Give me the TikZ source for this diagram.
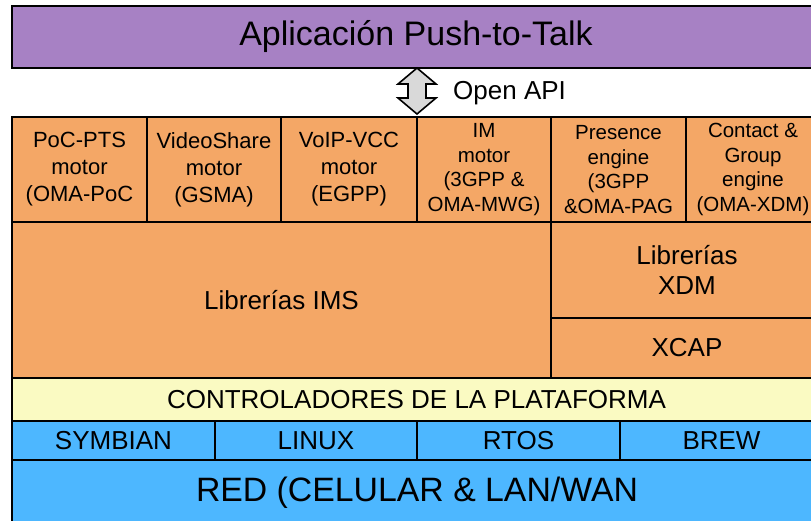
\documentclass[tikz,border=0pt]{standalone}
\usepackage{fontspec}
\setmainfont{Liberation Sans}
\definecolor{appviolet}{RGB}{167,129,196}
\definecolor{engorange}{RGB}{244,167,102}
\definecolor{drvyellow}{RGB}{250,250,194}
\definecolor{netblue}{RGB}{77,183,255}
\definecolor{arrowgray}{RGB}{217,217,217}
\begin{document}
\begin{tikzpicture}[x=1pt,y=-1pt,
  layer/.style={draw=black, line width=1.6pt, inner sep=0pt, outer sep=0pt, anchor=north west, align=center, text=black},
  engine/.style={layer, fill=engorange, font=\fontsize{22}{27}\selectfont},
  engine4/.style={layer, fill=engorange, font=\fontsize{20.5}{24.5}\selectfont},
  lib/.style={layer, fill=engorange, font=\fontsize{26}{30}\selectfont},
  os/.style={layer, fill=netblue, font=\fontsize{26}{30}\selectfont},
  apiarrow/.style={draw=black, line width=1.6pt, fill=arrowgray, line join=miter}
]
\useasboundingbox (0,0) rectangle (811,520);
\fill[white] (0,0) rectangle (811,520);
% top application layer
\node[layer, fill=appviolet, minimum width=808pt, minimum height=62pt, font=\fontsize{34}{38}\selectfont] (app) at (12,6) {Aplicación Push-to-Talk};
% engines row
\node[engine, minimum width=135pt, minimum height=105pt] (poc) at (12,117) {PoC-PTS\\motor\\(OMA-PoC};
\node[engine, minimum width=134pt, minimum height=105pt] (video) at (147,117) {VideoShare\\motor\\(GSMA)};
\node[engine, minimum width=136pt, minimum height=105pt] (voip) at (281,117) {VoIP-VCC\\motor\\(EGPP)};
\node[engine4, minimum width=134pt, minimum height=105pt] (im) at (417,117) {IM\\motor\\(3GPP \&\\OMA-MWG)};
\node[engine4, minimum width=135pt, minimum height=105pt] (pres) at (551,117) {Presence\\engine\\(3GPP\\\&OMA-PAG};
\node[engine4, minimum width=134pt, minimum height=105pt] (contact) at (686,117) {Contact \&\\Group\\engine\\(OMA-XDM)};
% libraries
\node[lib, minimum width=539pt, minimum height=156pt] (ims) at (12,222) {Librerías IMS};
\node[lib, minimum width=272pt, minimum height=96pt] (xdm) at (551,222) {Librerías\\XDM};
\node[lib, minimum width=272pt, minimum height=60pt] (xcap) at (551,318) {XCAP};
% drivers
\node[layer, fill=drvyellow, minimum width=809pt, minimum height=43pt, font=\fontsize{26}{30}\selectfont] (drv) at (12,378) {CONTROLADORES DE LA PLATAFORMA};
% operating systems
\node[os, minimum width=203pt, minimum height=39pt] (symb) at (12,421) {SYMBIAN};
\node[os, minimum width=202pt, minimum height=39pt] (linux) at (215,421) {LINUX};
\node[os, minimum width=203pt, minimum height=39pt] (rtos) at (417,421) {RTOS};
\node[os, minimum width=203pt, minimum height=39pt] (brew) at (620,421) {BREW};
% network
\node[layer, fill=netblue, minimum width=810pt, minimum height=66pt, font=\fontsize{33.8}{38}\selectfont] (red) at (12,460) {RED (CELULAR \& LAN/WAN};
% Open API double arrow
\path (app.south -| im.west) coordinate (apitop);
\draw[apiarrow] (apitop) -- ++(19,16) -- ++(-10,0) -- ++(0,14) -- ++(10,0) -- ++(-19,16) -- ++(-19,-16) -- ++(10,0) -- ++(0,-14) -- ++(-10,0) -- cycle;
\node[anchor=west, inner sep=0pt, font=\fontsize{26}{30}\selectfont] (apilabel) at (453,93) {Open API};
\end{tikzpicture}
\end{document}
